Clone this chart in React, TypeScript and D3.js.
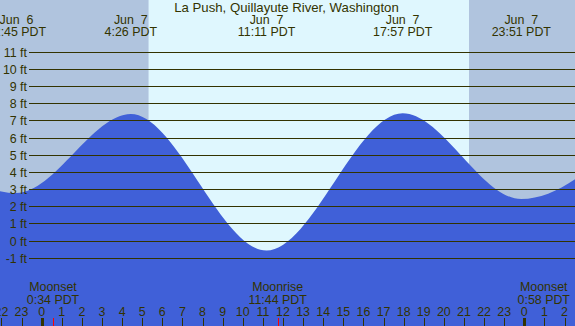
import React from "react";
import * as d3 from "d3";

const W = 575;
const H = 326;

const title = "La Push, Quillayute River, Washington";

// tide extremes (day of June, clock time PDT, height ft)
const tideDays = [6, 6, 7, 7, 7, 7, 8];
const tideClock = ["16:20", "22:45", "4:26", "11:11", "17:57", "23:51", "6:10"];
const tideHeights = [7.6, 2.8, 7.4, -0.55, 7.45, 2.45, 7.45];

const sunDays = [7, 7];
const sunClock = ["5:19", "21:15"];

const moonDays = [7, 7, 8];
const moonClock = ["0:34", "11:44", "0:58"];
const moonNames = ["Moonset", "Moonrise", "Moonset"];

const ftTicks = [-1, 0, 1, 2, 3, 4, 5, 6, 7, 8, 9, 10, 11];
const hourTicks = [-2, -1, 0, 1, 2, 3, 4, 5, 6, 7, 8, 9, 10, 11, 12, 13, 14, 15, 16, 17, 18, 19, 20, 21, 22, 23, 24, 25, 26];

const toHours = (day: number, clock: string) => {
  const [h, m] = clock.split(":").map(Number);
  return (day - 7) * 24 + h + m / 60;
};

const FONT = "'Liberation Sans', Arial, sans-serif";
const INK = "#333300";
const NIGHT = "#b0c4de";
const DAY = "#dff7fe";
const WATER = "#4060d8";

export default function App() {
  const x = d3.scaleLinear().domain([-2.07, 26.52]).range([0, W]);
  const y = d3.scaleLinear().domain([-1, 11]).range([258.3, 52.3]);

  const tides = tideDays.map((d, i) => ({
    t: toHours(d, tideClock[i]),
    h: tideHeights[i],
    day: d,
    clock: tideClock[i],
  }));
  const area = d3
    .area<{ t: number; h: number }>()
    .x((d) => x(d.t))
    .y0(H)
    .y1((d) => y(d.h))
    .curve(d3.curveMonotoneX);

  const sunrise = x(toHours(sunDays[0], sunClock[0]));
  const sunset = x(toHours(sunDays[1], sunClock[1]));

  const [x0, x1] = x.domain();
  const visibleTides = tides.filter((d) => d.t >= x0 - 1 && d.t <= x1);

  return (
    <svg
      width={W}
      height={H}
      style={{ position: "absolute", left: 0, top: 0 }}
      fontFamily={FONT}
      fontSize={12.4}
    >
      <defs>
        <clipPath id="plot">
          <rect x={0} y={0} width={W} height={H} />
        </clipPath>
      </defs>
      <rect x={0} y={0} width={W} height={H} fill={NIGHT} />
      <rect x={sunrise} y={0} width={sunset - sunrise} height={H} fill={DAY} />
      <path d={area(tides) || ""} fill={WATER} clipPath="url(#plot)" />
      {ftTicks.map((f) => {
        const yy = Math.floor(y(f)) + 0.5;
        return (
          <g key={f}>
            <line x1={29} x2={W} y1={yy} y2={yy} stroke={INK} strokeWidth={1} />
            <text x={27} y={yy + 4.3} textAnchor="end" fill={INK}>
              {`${f} ft`}
            </text>
          </g>
        );
      })}
      <text x={W / 2 - 1} y={12} textAnchor="middle" fill={INK} fontSize={13.2}>
        {title}
      </text>
      {visibleTides.map((d, i) => (
        <g key={i}>
          <text x={x(d.t)} y={23.6} textAnchor="middle" fill={INK} style={{ whiteSpace: "pre" }}>
            {`Jun  ${d.day}`}
          </text>
          <text x={x(d.t)} y={35.6} textAnchor="middle" fill={INK}>
            {`${d.clock} PDT`}
          </text>
        </g>
      ))}
      {moonDays.map((d, i) => {
        const mx = x(toHours(d, moonClock[i]));
        return (
          <g key={i}>
            <text x={mx} y={291.3} textAnchor="middle" fill={INK}>
              {moonNames[i]}
            </text>
            <text x={mx} y={304.3} textAnchor="middle" fill={INK}>
              {`${moonClock[i]} PDT`}
            </text>
            <line x1={Math.round(mx) + 0.5} x2={Math.round(mx) + 0.5} y1={318} y2={H} stroke="#ff0000" strokeWidth={1} />
          </g>
        );
      })}
      {hourTicks.map((t) => {
        const tx = x(t);
        const label = ((t % 24) + 24) % 24;
        const isMid = label === 0;
        return (
          <g key={t}>
            <text x={tx} y={316} textAnchor="middle" fill={INK}>
              {label}
            </text>
            <line
              x1={Math.round(tx) + 0.5}
              x2={Math.round(tx) + 0.5}
              y1={318}
              y2={H}
              stroke={INK}
              strokeWidth={isMid ? 3 : 1}
            />
          </g>
        );
      })}
    </svg>
  );
}
